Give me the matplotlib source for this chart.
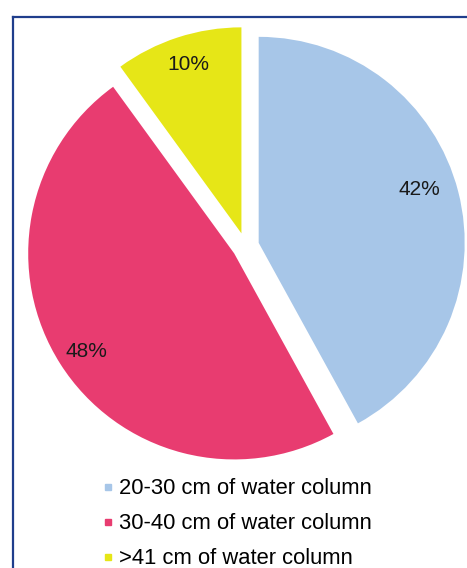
import matplotlib
matplotlib.use("Agg")
import matplotlib.pyplot as plt
from matplotlib.lines import Line2D

categories = ["20-30 cm of water column", "30-40 cm of water column", ">41 cm of water column"]
values = [42, 48, 10]
colors = ["#a7c6e8", "#e83c70", "#e6e617"]

plt.rcParams['font.family'] = ['Liberation Sans', 'DejaVu Sans']

W, H = 467, 568
fig = plt.figure(figsize=(W / 100, H / 100), dpi=100)
ax = fig.add_axes([0, 0, 1, 1])

wedges, texts, autotexts = ax.pie(
    values, colors=colors, explode=[13.5] * 3, startangle=90, counterclock=False,
    center=(245.6, H - 246.2), radius=206, autopct='%1.0f%%', pctdistance=0.85,
    textprops=dict(fontsize=15, color='#1a1a1a'),
    wedgeprops=dict(linewidth=0))
ax.set_xlim(0, W)
ax.set_ylim(0, H)
ax.set_aspect('auto')
ax.axis('off')

# nudge percentage labels slightly
x0, y0 = autotexts[0].get_position()
autotexts[0].set_position((x0 - 9, y0 + 10))
x1, y1 = autotexts[1].get_position()
autotexts[1].set_position((x1, y1 - 4))
x2, y2 = autotexts[2].get_position()
autotexts[2].set_position((x2 + 1, y2 + 2))

# frame border (cropped on right and bottom)
fig.add_artist(Line2D([12.7 / W, 12.7 / W], [-0.1, 1 - 16.5 / H], transform=fig.transFigure,
                      color='#1f3e8c', linewidth=1.6, solid_capstyle='projecting'))
fig.add_artist(Line2D([12.7 / W, 1.1], [1 - 16.5 / H, 1 - 16.5 / H], transform=fig.transFigure,
                      color='#1f3e8c', linewidth=1.6, solid_capstyle='projecting'))

handles = [Line2D([], [], marker='s', linestyle='', color=c, markersize=5) for c in colors]
ax.legend(handles, categories, loc='upper left',
          bbox_to_anchor=(103 / W, 1 - 478 / H), bbox_transform=fig.transFigure,
          frameon=False, fontsize=15.8, handlelength=0.45, handleheight=0.5,
          handletextpad=0.28, labelspacing=0.63, borderpad=0, borderaxespad=0)

fig.savefig("out.png", dpi=100)
